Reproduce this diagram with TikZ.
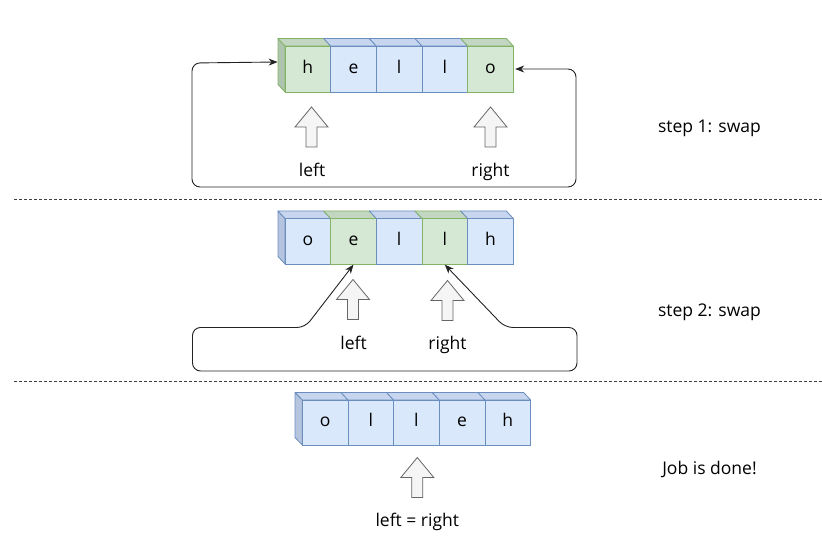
\documentclass[tikz,border=0pt]{standalone}
\usepackage{fontspec}
\setmainfont{Open Sans}
\usetikzlibrary{arrows.meta}
\definecolor{bfill}{HTML}{DAE8FC}
\definecolor{bline}{HTML}{6C8EBF}
\definecolor{btop}{HTML}{C7D6EE}
\definecolor{bside}{HTML}{B6C5DF}
\definecolor{gfill}{HTML}{D5E8D4}
\definecolor{gline}{HTML}{82B366}
\definecolor{gtop}{HTML}{C2D6C1}
\definecolor{gside}{HTML}{AFC4AE}
\definecolor{afill}{HTML}{F5F5F5}
\definecolor{aline}{HTML}{666666}
\definecolor{conn}{HTML}{222222}
\tikzset{
  txt/.style={font=\fontsize{17.5}{20}\selectfont, inner sep=0pt, text height=12.5pt, text depth=4pt},
  cellbox/.style={txt, minimum width=45.66pt, minimum height=46pt, line width=0.8pt},
  face/.style={line width=0.8pt, line join=round},
  sep/.style={dashed, dash pattern=on 3pt off 2pt, draw=black!75, line width=0.7pt},
  conn/.style={draw=conn, line width=0.9pt, rounded corners=8pt, {Stealth[length=9pt,width=7pt]}-{Stealth[length=9pt,width=7pt]}},
  pics/hollowup/.style={code={
    \draw[fill=afill, draw=aline, line width=0.8pt, line join=miter]
      (0,0) -- (16.5,20) -- (5.5,20) -- (5.5,40) -- (-5.5,40) -- (-5.5,20) -- (-16.5,20) -- cycle;
  }}
}
\begin{document}
\begin{tikzpicture}[x=1pt, y=-1pt]
\useasboundingbox (0,0) rectangle (822,556);

% ---------- row 1 ----------
\draw[face, fill=gside, draw=gline] (278,38.5) -- (285,46) -- (285,92) -- (278,84.5) -- cycle;
\foreach \ch/\cf/\cl/\ct [count=\i] in {h/gfill/gline/gtop, e/bfill/bline/btop, l/bfill/bline/btop, l/bfill/bline/btop, o/gfill/gline/gtop}{
  \pgfmathsetmacro\xl{285+(\i-1)*45.66}
  \draw[face, fill=\ct, draw=\cl] (\xl,46) -- (\xl+45.66,46) -- (\xl+38.66,38.5) -- (\xl-7,38.5) -- cycle;
  \node[cellbox, fill=\cf, draw=\cl] (ra\i) at (\xl+22.83,69) {\ch};
}
\pic (ua1) at (311.5,107) {hollowup};
\pic (ua2) at (490.5,107) {hollowup};
\node[txt] (la1) at (312,172) {left};
\node[txt] (lb1) at (490.5,172) {right};
\coordinate (s1) at ([shift={(-7,-7)}]ra1.west);
\coordinate (e1) at ([xshift=1.5pt]ra5.east);
\draw[conn] (s1) -- (192,63) -- (192,187) -- (576,187) -- (576,69) -- (e1);
\node[txt] (t1) at (709.5,128) {step 1: swap};

\draw[sep] (14,199) coordinate (d1a) -- (822,199) coordinate (d1b);

% ---------- row 2 ----------
\draw[face, fill=bside, draw=bline] (278,211) -- (285,218.5) -- (285,264) -- (278,256.5) -- cycle;
\foreach \ch/\cf/\cl/\ct [count=\i] in {o/bfill/bline/btop, e/gfill/gline/gtop, l/bfill/bline/btop, l/gfill/gline/gtop, h/bfill/bline/btop}{
  \pgfmathsetmacro\xl{285+(\i-1)*45.66}
  \draw[face, fill=\ct, draw=\cl] (\xl,218.5) -- (\xl+45.66,218.5) -- (\xl+38.66,211) -- (\xl-7,211) -- cycle;
  \node[cellbox, fill=\cf, draw=\cl] (rb\i) at (\xl+22.83,241.25) {\ch};
}
\pic (ub1) at (353,279.5) {hollowup};
\pic (ub2) at (447.5,280.5) {hollowup};
\node[txt] (la2) at (353.5,345) {left};
\node[txt] (lb2) at (447.5,345) {right};
\draw[conn] (rb2.south) -- (305,327.5) -- (192.5,327.5) -- (192.5,371) -- (577,371) -- (577,327.5) -- (505,327.5) -- (rb4.south);
\node[txt] (t2) at (709.5,312) {step 2: swap};

\draw[sep] (14,381) coordinate (d2a) -- (822,381) coordinate (d2b);

% ---------- row 3 ----------
\draw[face, fill=bside, draw=bline] (295,392.5) -- (302.3,400) -- (302.3,445) -- (295,437.5) -- cycle;
\foreach \ch [count=\i] in {o,l,l,e,h}{
  \pgfmathsetmacro\xl{302.3+(\i-1)*45.66}
  \draw[face, fill=btop, draw=bline] (\xl,400) -- (\xl+45.66,400) -- (\xl+38.66,392.5) -- (\xl-7,392.5) -- cycle;
  \node[cellbox, fill=bfill, draw=bline, minimum height=45pt] (rc\i) at (\xl+22.83,422.5) {\ch};
}
\pic (uc1) at (417.3,457.5) {hollowup};
\node[txt] (lc) at (417.3,522) {left = right};
\node[txt] (t3) at (709.5,470) {Job is done!};
\end{tikzpicture}
\end{document}
